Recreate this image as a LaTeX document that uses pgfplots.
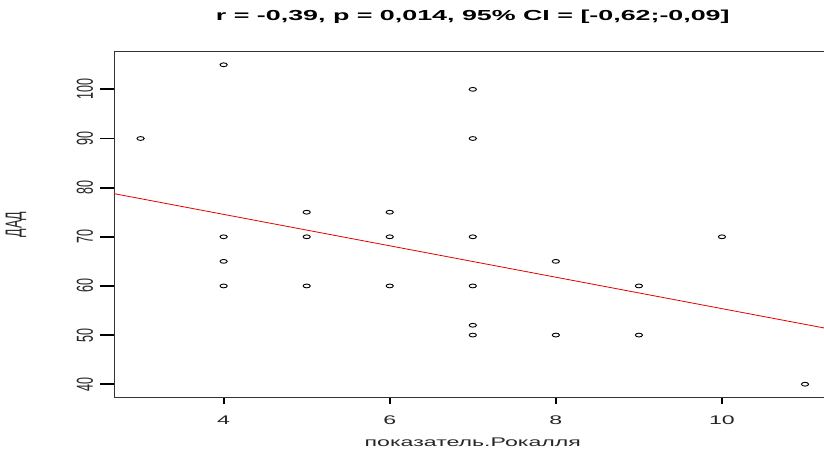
\documentclass[border=0pt]{standalone}
\usepackage{fontspec}
\setmainfont{Liberation Sans}
\usepackage{graphicx}
\usepackage{pgfplots}
\pgfplotsset{compat=1.18}
\newcommand{\hs}[1]{\scalebox{1.85}[1]{#1}}
\newcommand{\vs}[1]{\scalebox{1}[1.85]{#1}}
\begin{document}
\begin{tikzpicture}
\path[use as bounding box] (0pt,0pt) rectangle (824pt,453pt);
\clip (0pt,0pt) rectangle (824pt,453pt);
\begin{axis}[
  at={(114pt,56pt)}, anchor=south west,
  scale only axis, width=717.6pt, height=345pt,
  xmin=2.68, xmax=11.32, ymin=37.4, ymax=107.6,
  clip=false,
  xtick={4,6,8,10}, ytick={40,50,60,70,80,90,100},
  xticklabels={\hs{4},\hs{6},\hs{8},\hs{10}},
  yticklabels={\vs{40},\vs{50},\vs{60},\vs{70},\vs{80},\vs{90},\vs{100}},
  xtick pos=left, ytick pos=left, tick align=outside,
  major tick length=7pt,
  every tick/.style={line width=1.8pt, black},
  axis line style={line width=1pt, black!80},
  tick label style={font=\fontsize{12.5}{15}\selectfont, text=black!85},
  xticklabel style={anchor=center, yshift=-16pt},
  yticklabel style={rotate=90, anchor=center, yshift=22pt},
  label style={font=\fontsize{12.5}{15}\selectfont, text=black!85},
  xlabel={\hs{показатель.Рокалля}},
  ylabel={\vs{ДАД}},
  xlabel style={at={(axis description cs:0.5,0)}, anchor=center, yshift=-45pt},
  ylabel style={at={(axis description cs:0,0.5)}, anchor=center, yshift=98pt},
  title={\hs{r = -0,39, p = 0,014, 95\% CI = [-0,62;-0,09]}},
  title style={at={(axis description cs:0.5,1)}, anchor=center, yshift=29pt, font=\bfseries\fontsize{14.5}{17}\selectfont},
]
\pgfplotsinvokeforeach{40,50,60,70,80,90,100}{
  \draw[line width=1.8pt, black] (axis cs:2.68,#1) -- ++(-14pt,0pt);
}
\addplot[only marks, mark=o, mark size=1.9pt, black, mark options={xscale=1.9, line width=0.9pt}] coordinates {
(3,90)
(4,105) (4,70) (4,65) (4,60)
(5,75) (5,70) (5,60)
(6,75) (6,70) (6,60)
(7,100) (7,90) (7,70) (7,60) (7,52) (7,50)
(8,65) (8,50)
(9,60) (9,50)
(10,70)
(11,40)
};
\addplot[red!90!black, line width=0.8pt] coordinates {(2.68,78.78) (11.32,51.16)};
\end{axis}
\end{tikzpicture}
\end{document}
